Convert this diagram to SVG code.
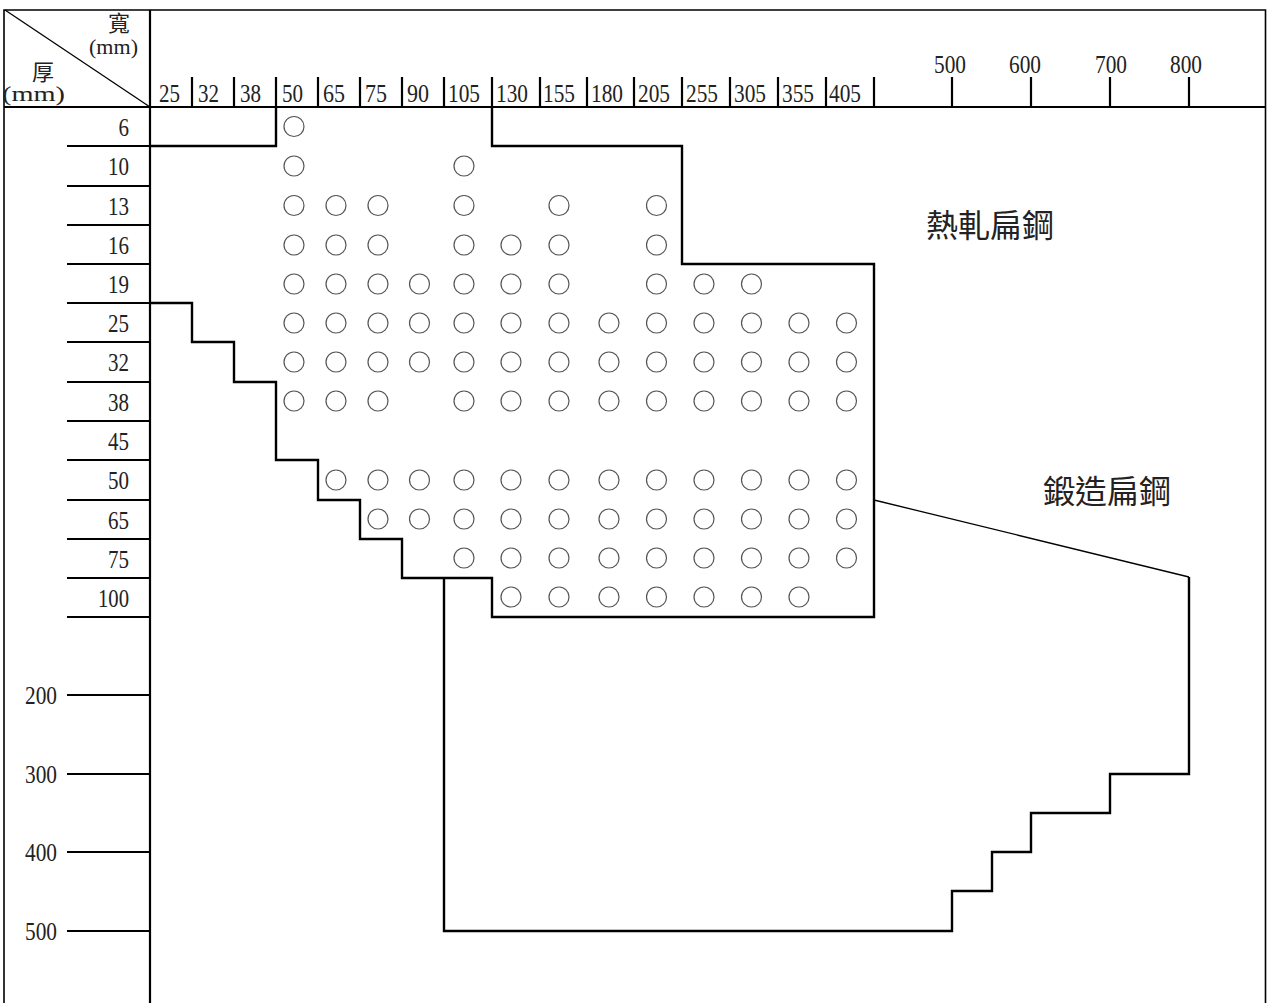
<svg xmlns="http://www.w3.org/2000/svg" width="1267" height="1003" viewBox="0 0 1267 1003">
<style>
.bg{fill:#fff}
.frame{fill:none;stroke:#000;stroke-width:1.6}
.ln{fill:none;stroke:#000;stroke-width:2.2}
.thin{fill:none;stroke:#000;stroke-width:1.3}
.ol{fill:none;stroke:#000;stroke-width:2.4;stroke-linejoin:miter}
.c{fill:none;stroke:#555;stroke-width:1.2}
.num{font-family:"Liberation Serif","Noto Sans CJK TC",serif;font-size:26px;fill:#222}
.hd{font-family:"Liberation Serif","Noto Sans CJK TC",serif;font-size:20px;fill:#222}
.cjk{font-family:"Noto Sans CJK TC","Noto Sans CJK JP",sans-serif;font-size:22px;fill:#222}
.big{font-family:"Noto Sans CJK TC","Noto Sans CJK JP",sans-serif;font-size:32px;fill:#222}
</style>
<rect class="bg" x="0" y="0" width="1267" height="1003"/>

<g id="frame">
<path class="frame" d="M4,1003 V10 H1265.5 V1003"/>
<line class="ln" x1="150" y1="10" x2="150" y2="1003"/>
<line class="ln" x1="4" y1="107" x2="1265.5" y2="107"/>
<line class="thin" x1="5" y1="10" x2="150" y2="107"/>
</g>

<g id="corner-header">
<text class="cjk" x="108" y="31">寬</text>
<text class="hd" x="89" y="54" textLength="49" lengthAdjust="spacingAndGlyphs">(mm)</text>
<text class="cjk" x="32" y="80">厚</text>
<text class="hd" x="2" y="101" textLength="63" lengthAdjust="spacingAndGlyphs">(mm)</text>
</g>

<g id="width-ticks">
<path class="ln" d="M192,77V107 M234,77V107 M276,77V107 M318,77V107 M360,77V107 M402,77V107 M444,77V107 M492,77V107 M540,77V107 M587,77V107 M634,77V107 M682,77V107 M730,77V107 M778,77V107 M826,77V107 M874,77V107 M952,77V107 M1031,77V107 M1110,77V107 M1189,77V107"/>
</g>

<g id="width-labels" class="num">
<text x="159" y="102" textLength="21" lengthAdjust="spacingAndGlyphs">25</text>
<text x="198" y="102" textLength="21" lengthAdjust="spacingAndGlyphs">32</text>
<text x="240" y="102" textLength="21" lengthAdjust="spacingAndGlyphs">38</text>
<text x="282" y="102" textLength="21" lengthAdjust="spacingAndGlyphs">50</text>
<text x="323" y="102" textLength="22" lengthAdjust="spacingAndGlyphs">65</text>
<text x="365" y="102" textLength="22" lengthAdjust="spacingAndGlyphs">75</text>
<text x="407" y="102" textLength="22" lengthAdjust="spacingAndGlyphs">90</text>
<text x="448" y="102" textLength="32" lengthAdjust="spacingAndGlyphs">105</text>
<text x="496" y="102" textLength="32" lengthAdjust="spacingAndGlyphs">130</text>
<text x="543" y="102" textLength="32" lengthAdjust="spacingAndGlyphs">155</text>
<text x="591" y="102" textLength="32" lengthAdjust="spacingAndGlyphs">180</text>
<text x="638" y="102" textLength="32" lengthAdjust="spacingAndGlyphs">205</text>
<text x="686" y="102" textLength="32" lengthAdjust="spacingAndGlyphs">255</text>
<text x="734" y="102" textLength="32" lengthAdjust="spacingAndGlyphs">305</text>
<text x="782" y="102" textLength="32" lengthAdjust="spacingAndGlyphs">355</text>
<text x="829" y="102" textLength="32" lengthAdjust="spacingAndGlyphs">405</text>
<text x="934" y="73" textLength="32" lengthAdjust="spacingAndGlyphs">500</text>
<text x="1009" y="73" textLength="32" lengthAdjust="spacingAndGlyphs">600</text>
<text x="1095" y="73" textLength="32" lengthAdjust="spacingAndGlyphs">700</text>
<text x="1170" y="73" textLength="32" lengthAdjust="spacingAndGlyphs">800</text>
</g>

<g id="thickness-ticks">
<path class="ln" d="M67,146H150 M67,186H150 M67,225H150 M67,264H150 M67,303H150 M67,342H150 M67,382H150 M67,421H150 M67,460H150 M67,500H150 M67,539H150 M67,578H150 M67,617H150 M67,695H150 M67,774H150 M67,852H150 M67,931H150"/>
</g>

<g id="thickness-labels" class="num" text-anchor="end">
<text x="129" y="135.5" textLength="10.5" lengthAdjust="spacingAndGlyphs">6</text>
<text x="129" y="175" textLength="21" lengthAdjust="spacingAndGlyphs">10</text>
<text x="129" y="214.5" textLength="21" lengthAdjust="spacingAndGlyphs">13</text>
<text x="129" y="253.5" textLength="21" lengthAdjust="spacingAndGlyphs">16</text>
<text x="129" y="292.5" textLength="21" lengthAdjust="spacingAndGlyphs">19</text>
<text x="129" y="331.5" textLength="21" lengthAdjust="spacingAndGlyphs">25</text>
<text x="129" y="371" textLength="21" lengthAdjust="spacingAndGlyphs">32</text>
<text x="129" y="410.5" textLength="21" lengthAdjust="spacingAndGlyphs">38</text>
<text x="129" y="449.5" textLength="21" lengthAdjust="spacingAndGlyphs">45</text>
<text x="129" y="489" textLength="21" lengthAdjust="spacingAndGlyphs">50</text>
<text x="129" y="528.5" textLength="21" lengthAdjust="spacingAndGlyphs">65</text>
<text x="129" y="567.5" textLength="21" lengthAdjust="spacingAndGlyphs">75</text>
<text x="129" y="606.5" textLength="31" lengthAdjust="spacingAndGlyphs">100</text>
<text x="57" y="704" textLength="32" lengthAdjust="spacingAndGlyphs">200</text>
<text x="57" y="783" textLength="32" lengthAdjust="spacingAndGlyphs">300</text>
<text x="57" y="861" textLength="32" lengthAdjust="spacingAndGlyphs">400</text>
<text x="57" y="940" textLength="32" lengthAdjust="spacingAndGlyphs">500</text>
</g>

<g id="hot-rolled-region">
<path class="ol" d="M150,146 H276 V107 M492,107 V146 H682 V264 H874 V617 H492 V578 H402 V539 H360 V500 H318 V460 H276 V382 H234 V342 H192 V303 H150"/>
<text class="big" x="926" y="237">熱軋扁鋼</text>
</g>

<g id="forged-region">
<path class="ol" d="M444,578 V931 H952 V891 H992 V852 H1031 V813 H1110 V774 H1189 V577"/>
<line class="thin" x1="874" y1="500" x2="1189" y2="577"/>
<text class="big" x="1043" y="503">鍛造扁鋼</text>
</g>

<g id="availability-marks">
<circle class="c" cx="294" cy="126.5" r="10"/>

<circle class="c" cx="294" cy="166" r="10"/>
<circle class="c" cx="464" cy="166" r="10"/>

<circle class="c" cx="294" cy="205.5" r="10"/>
<circle class="c" cx="336" cy="205.5" r="10"/>
<circle class="c" cx="378" cy="205.5" r="10"/>
<circle class="c" cx="464" cy="205.5" r="10"/>
<circle class="c" cx="559" cy="205.5" r="10"/>
<circle class="c" cx="656.5" cy="205.5" r="10"/>

<circle class="c" cx="294" cy="245" r="10"/>
<circle class="c" cx="336" cy="245" r="10"/>
<circle class="c" cx="378" cy="245" r="10"/>
<circle class="c" cx="464" cy="245" r="10"/>
<circle class="c" cx="511" cy="245" r="10"/>
<circle class="c" cx="559" cy="245" r="10"/>
<circle class="c" cx="656.5" cy="245" r="10"/>

<circle class="c" cx="294" cy="284" r="10"/>
<circle class="c" cx="336" cy="284" r="10"/>
<circle class="c" cx="378" cy="284" r="10"/>
<circle class="c" cx="419.5" cy="284" r="10"/>
<circle class="c" cx="464" cy="284" r="10"/>
<circle class="c" cx="511" cy="284" r="10"/>
<circle class="c" cx="559" cy="284" r="10"/>
<circle class="c" cx="656.5" cy="284" r="10"/>
<circle class="c" cx="704" cy="284" r="10"/>
<circle class="c" cx="751.5" cy="284" r="10"/>

<circle class="c" cx="294" cy="323" r="10"/>
<circle class="c" cx="336" cy="323" r="10"/>
<circle class="c" cx="378" cy="323" r="10"/>
<circle class="c" cx="419.5" cy="323" r="10"/>
<circle class="c" cx="464" cy="323" r="10"/>
<circle class="c" cx="511" cy="323" r="10"/>
<circle class="c" cx="559" cy="323" r="10"/>
<circle class="c" cx="609" cy="323" r="10"/>
<circle class="c" cx="656.5" cy="323" r="10"/>
<circle class="c" cx="704" cy="323" r="10"/>
<circle class="c" cx="751.5" cy="323" r="10"/>
<circle class="c" cx="799" cy="323" r="10"/>
<circle class="c" cx="846.5" cy="323" r="10"/>

<circle class="c" cx="294" cy="362" r="10"/>
<circle class="c" cx="336" cy="362" r="10"/>
<circle class="c" cx="378" cy="362" r="10"/>
<circle class="c" cx="419.5" cy="362" r="10"/>
<circle class="c" cx="464" cy="362" r="10"/>
<circle class="c" cx="511" cy="362" r="10"/>
<circle class="c" cx="559" cy="362" r="10"/>
<circle class="c" cx="609" cy="362" r="10"/>
<circle class="c" cx="656.5" cy="362" r="10"/>
<circle class="c" cx="704" cy="362" r="10"/>
<circle class="c" cx="751.5" cy="362" r="10"/>
<circle class="c" cx="799" cy="362" r="10"/>
<circle class="c" cx="846.5" cy="362" r="10"/>

<circle class="c" cx="294" cy="401" r="10"/>
<circle class="c" cx="336" cy="401" r="10"/>
<circle class="c" cx="378" cy="401" r="10"/>
<circle class="c" cx="464" cy="401" r="10"/>
<circle class="c" cx="511" cy="401" r="10"/>
<circle class="c" cx="559" cy="401" r="10"/>
<circle class="c" cx="609" cy="401" r="10"/>
<circle class="c" cx="656.5" cy="401" r="10"/>
<circle class="c" cx="704" cy="401" r="10"/>
<circle class="c" cx="751.5" cy="401" r="10"/>
<circle class="c" cx="799" cy="401" r="10"/>
<circle class="c" cx="846.5" cy="401" r="10"/>

<circle class="c" cx="336" cy="480" r="10"/>
<circle class="c" cx="378" cy="480" r="10"/>
<circle class="c" cx="419.5" cy="480" r="10"/>
<circle class="c" cx="464" cy="480" r="10"/>
<circle class="c" cx="511" cy="480" r="10"/>
<circle class="c" cx="559" cy="480" r="10"/>
<circle class="c" cx="609" cy="480" r="10"/>
<circle class="c" cx="656.5" cy="480" r="10"/>
<circle class="c" cx="704" cy="480" r="10"/>
<circle class="c" cx="751.5" cy="480" r="10"/>
<circle class="c" cx="799" cy="480" r="10"/>
<circle class="c" cx="846.5" cy="480" r="10"/>

<circle class="c" cx="378" cy="519" r="10"/>
<circle class="c" cx="419.5" cy="519" r="10"/>
<circle class="c" cx="464" cy="519" r="10"/>
<circle class="c" cx="511" cy="519" r="10"/>
<circle class="c" cx="559" cy="519" r="10"/>
<circle class="c" cx="609" cy="519" r="10"/>
<circle class="c" cx="656.5" cy="519" r="10"/>
<circle class="c" cx="704" cy="519" r="10"/>
<circle class="c" cx="751.5" cy="519" r="10"/>
<circle class="c" cx="799" cy="519" r="10"/>
<circle class="c" cx="846.5" cy="519" r="10"/>

<circle class="c" cx="464" cy="558" r="10"/>
<circle class="c" cx="511" cy="558" r="10"/>
<circle class="c" cx="559" cy="558" r="10"/>
<circle class="c" cx="609" cy="558" r="10"/>
<circle class="c" cx="656.5" cy="558" r="10"/>
<circle class="c" cx="704" cy="558" r="10"/>
<circle class="c" cx="751.5" cy="558" r="10"/>
<circle class="c" cx="799" cy="558" r="10"/>
<circle class="c" cx="846.5" cy="558" r="10"/>

<circle class="c" cx="511" cy="597" r="10"/>
<circle class="c" cx="559" cy="597" r="10"/>
<circle class="c" cx="609" cy="597" r="10"/>
<circle class="c" cx="656.5" cy="597" r="10"/>
<circle class="c" cx="704" cy="597" r="10"/>
<circle class="c" cx="751.5" cy="597" r="10"/>
<circle class="c" cx="799" cy="597" r="10"/>
</g>
</svg>
